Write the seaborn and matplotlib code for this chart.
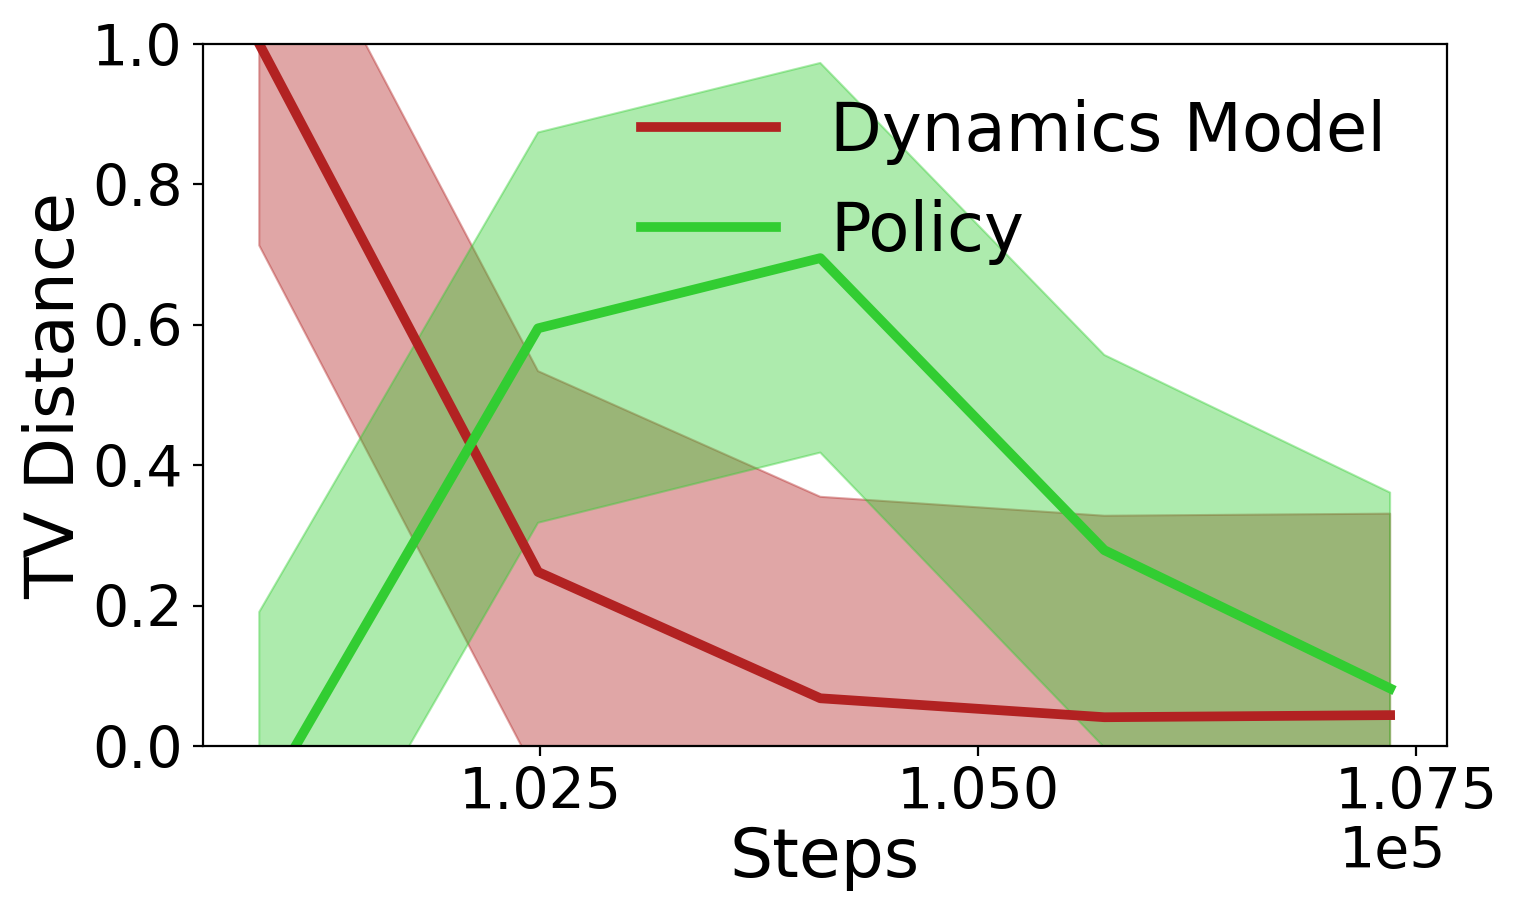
import numpy as np
import pandas as pd
import seaborn as sb
import matplotlib
matplotlib.use('Agg')
import matplotlib.pyplot as plt

# values
steps = [100900, 102490, 104100, 105720, 107350]

dyn_mean = [1.000, 0.248, 0.068, 0.041, 0.044]
dyn_low = [0.713, -0.045, -0.219, -0.246, -0.243]
dyn_high = [1.287, 0.534, 0.355, 0.328, 0.331]

pol_mean = [-0.089, 0.595, 0.695, 0.279, 0.082]
pol_low = [-0.370, 0.318, 0.418, -0.002, -0.197]
pol_high = [0.191, 0.874, 0.973, 0.557, 0.361]

labels = ['Dynamics Model', 'Policy']
colors = ['firebrick', 'limegreen']

plt.rcParams['xtick.labelsize'] = 41
plt.rcParams['ytick.labelsize'] = 41

fig, ax = plt.subplots(figsize=(15.22, 9.13), dpi=100)
fig.subplots_adjust(left=0.1332, right=0.9505, top=0.9518, bottom=0.1829)

df = pd.DataFrame({'Steps': steps + steps,
                   'TV': dyn_mean + pol_mean,
                   'which': [labels[0]] * len(steps) + [labels[1]] * len(steps)})

#bands first, lines on top
ax.fill_between(steps, dyn_low, dyn_high, color=colors[0], alpha=0.4, linewidth=1.5, zorder=1)
ax.fill_between(steps, pol_low, pol_high, color=colors[1], alpha=0.4, linewidth=1.5, zorder=1)

for name, c in zip(labels, colors):
    sb.lineplot(data=df[df['which'] == name], x='Steps', y='TV', color=c,
                linewidth=7, label=name, ax=ax, zorder=2)

ax.set_ylim(0, 1)
ax.set_xticks([102500, 105000, 107500])
ax.ticklabel_format(axis='x', style='sci', scilimits=(0, 0))
ax.xaxis.get_offset_text().set_fontsize(41)
ax.tick_params(length=7.2, width=1.6, pad=7.2)
for sp in ax.spines.values():
    sp.set_linewidth(1.6)

ax.set_xlabel('Steps', fontsize=49, labelpad=3)
ax.set_ylabel('TV Distance', fontsize=49, labelpad=3)
ax.legend(loc='upper right', bbox_to_anchor=(1.0, 1.008), frameon=False, fontsize=48.5)

plt.savefig('out.png', dpi=100)
